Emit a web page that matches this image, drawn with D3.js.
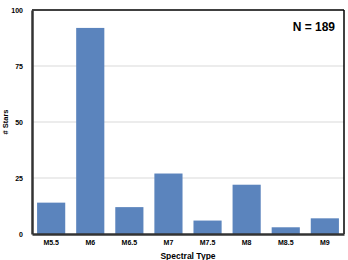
<!DOCTYPE html>
<html>
<head>
<meta charset="utf-8">
<script src="https://cdn.jsdelivr.net/npm/d3@7"></script>
<style>
  body { margin: 0; background: #fff; }
  text { font-family: "Liberation Sans", Arial, sans-serif; font-weight: bold; }
</style>
</head>
<body>
<div id="graph"></div>
<script>
// chart data
let types = ["M5.5", "M6", "M6.5", "M7", "M7.5", "M8", "M8.5", "M9"];
let counts = [14, 92, 12, 27, 6, 22, 3, 7];
let yTicks = [0, 25, 50, 75, 100];

let width = 348, height = 260;
let margin = {top: 10, right: 4, bottom: 26, left: 32};
let w = width - margin.left - margin.right;
let h = height - margin.top - margin.bottom;

let svg = d3.select("#graph")
    .append("svg")
    .attr("width", width)
    .attr("height", height)
    .append("g")
    .attr("transform", `translate(${margin.left}, ${margin.top})`);

let x = d3.scaleBand()
    .domain(types)
    .range([0, w])
    .paddingInner(0.28)
    .paddingOuter(0.13);

let y = d3.scaleLinear()
    .domain([0, 100])
    .range([h, 0]);

// gridlines
svg.append("g")
    .selectAll("line")
    .data(yTicks.filter(d => d > 0 && d < 100))
    .enter()
    .append("line")
    .attr("x1", 0)
    .attr("x2", w)
    .attr("y1", d => y(d))
    .attr("y2", d => y(d))
    .attr("stroke", "#d9d9d9")
    .attr("stroke-width", 1);

// bars
svg.selectAll("rect.bar")
    .data(types)
    .enter()
    .append("rect")
    .attr("class", "bar")
    .attr("x", d => x(d))
    .attr("y", (d, i) => y(counts[i]))
    .attr("width", x.bandwidth())
    .attr("height", (d, i) => h - y(counts[i]))
    .attr("fill", "#5b84bd");

// frame: thin top/right, heavier left/bottom
svg.append("line").attr("x1", 0).attr("x2", w).attr("y1", 0).attr("y2", 0)
    .attr("stroke", "#000").attr("stroke-width", 1.5);
svg.append("line").attr("x1", w).attr("x2", w).attr("y1", 0).attr("y2", h)
    .attr("stroke", "#000").attr("stroke-width", 1.5);

let yAxis = svg.append("g")
    .call(d3.axisLeft(y).tickValues(yTicks).tickSize(0).tickPadding(9));
yAxis.select(".domain").attr("stroke", "#333").attr("stroke-width", 2.5);
yAxis.selectAll("text").style("font-size", "7px").attr("fill", "#000");

let xAxis = svg.append("g")
    .attr("transform", `translate(0, ${h})`)
    .call(d3.axisBottom(x).tickSize(0).tickPadding(6));
xAxis.select(".domain").attr("stroke", "#333").attr("stroke-width", 2.5);
xAxis.selectAll("text").style("font-size", "7px").attr("fill", "#000");

// axis titles
svg.append("text")
    .attr("transform", `translate(${w / 2}, ${h + 25})`)
    .style("text-anchor", "middle")
    .style("font-size", "8.5px")
    .text("Spectral Type");

svg.append("text")
    .attr("transform", `translate(-24, ${h / 2}) rotate(-90)`)
    .style("text-anchor", "middle")
    .style("font-size", "7.5px")
    .text("# Stars");

svg.append("text")
    .attr("x", w - 9)
    .attr("y", 21)
    .style("text-anchor", "end")
    .style("font-size", "12px")
    .text("N = 189");
</script>
</body>
</html>
